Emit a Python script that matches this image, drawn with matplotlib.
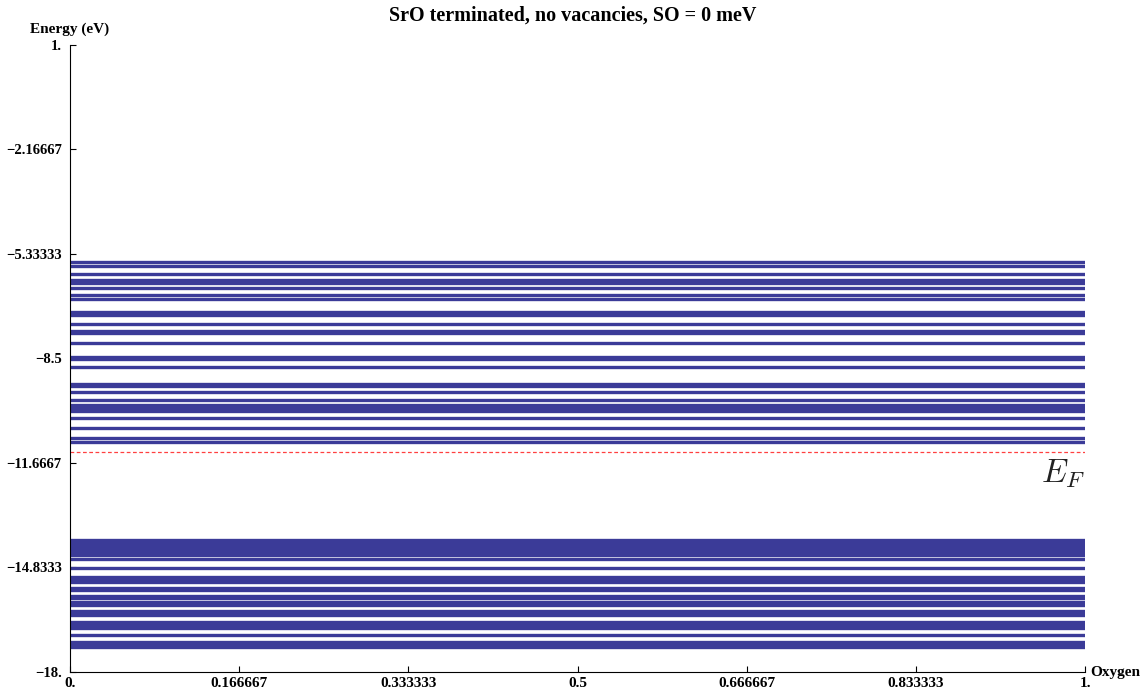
import numpy as np
import matplotlib.pyplot as plt

# Niveles de energia (eV) del slab, banda de valencia y banda superior
niveles_sup = [-5.58, -5.70, -5.94, -6.12, -6.21, -6.36, -6.58, -6.70,
               -7.09, -7.18, -7.45, -7.67, -7.73, -8.03, -8.45, -8.52,
               -8.76, -9.27, -9.33, -9.52, -9.76, -9.91, -10.00, -10.09,
               -10.30, -10.61, -10.91, -11.03]
niveles_inf = [-14.00, -14.09, -14.18, -14.27, -14.36, -14.45, -14.58,
               -14.85, -15.12, -15.21, -15.27, -15.45, -15.52, -15.70,
               -15.76, -15.88, -15.97, -16.15, -16.18, -16.27, -16.48,
               -16.58, -16.67, -16.88, -17.09, -17.18, -17.24]
e_fermi = -11.33

yticks = [1, -2.16667, -5.33333, -8.5, -11.6667, -14.8333, -18]
ytick_labels = ['1.', '\u22122.16667', '\u22125.33333', '\u22128.5',
                '\u221211.6667', '\u221214.8333', '\u221218.']
xticks = [0, 1/6, 1/3, 0.5, 2/3, 5/6, 1]
xtick_labels = ['0.', '0.166667', '0.333333', '0.5', '0.666667', '0.833333', '1.']

plt.rcParams['font.family'] = ['Liberation Serif', 'DejaVu Serif']
plt.rcParams['font.weight'] = 'bold'
plt.rcParams['mathtext.fontset'] = 'cm'

fig = plt.figure(figsize=(11.46, 6.92), dpi=100)
ax = fig.add_axes([0.0611, 0.0289, 0.8857, 0.9061])

azul = '#3b3b98'
ax.hlines(niveles_sup + niveles_inf, 0, 1, color=azul, lw=2.4)
ax.hlines(e_fermi, 0, 1, color='#ff4040', lw=0.9, linestyles=(0, (3, 2)))
ax.text(1.0, e_fermi - 0.15, r'$E_F$', ha='right', va='top',
        fontsize=24, color='#222222')

ax.set_xlim(0, 1)
ax.set_ylim(-18, 1)
ax.set_xticks(xticks)
ax.set_xticklabels(xtick_labels)
ax.set_yticks(yticks)
ax.set_yticklabels(ytick_labels)
ax.tick_params(direction='in', length=4, width=0.8)
ax.tick_params(axis='x', pad=3.5, labelsize=11)
ax.tick_params(axis='y', pad=6, labelsize=10.5)

for s in ['top', 'right']:
    ax.spines[s].set_visible(False)
for s in ['left', 'bottom']:
    ax.spines[s].set_linewidth(0.8)

ax.text(0, 1.015, 'Energy (eV)', transform=ax.transAxes, ha='center',
        va='bottom', fontsize=11, fontweight='bold')
ax.text(1.005, 0, 'Oxygen', transform=ax.transAxes, ha='left',
        va='center', fontsize=11, fontweight='bold')
fig.text(0.5, 0.992, 'SrO terminated, no vacancies, SO = 0 meV', ha='center',
         va='top', fontsize=14.5, fontweight='bold')

fig.savefig('out.png', dpi=100)
